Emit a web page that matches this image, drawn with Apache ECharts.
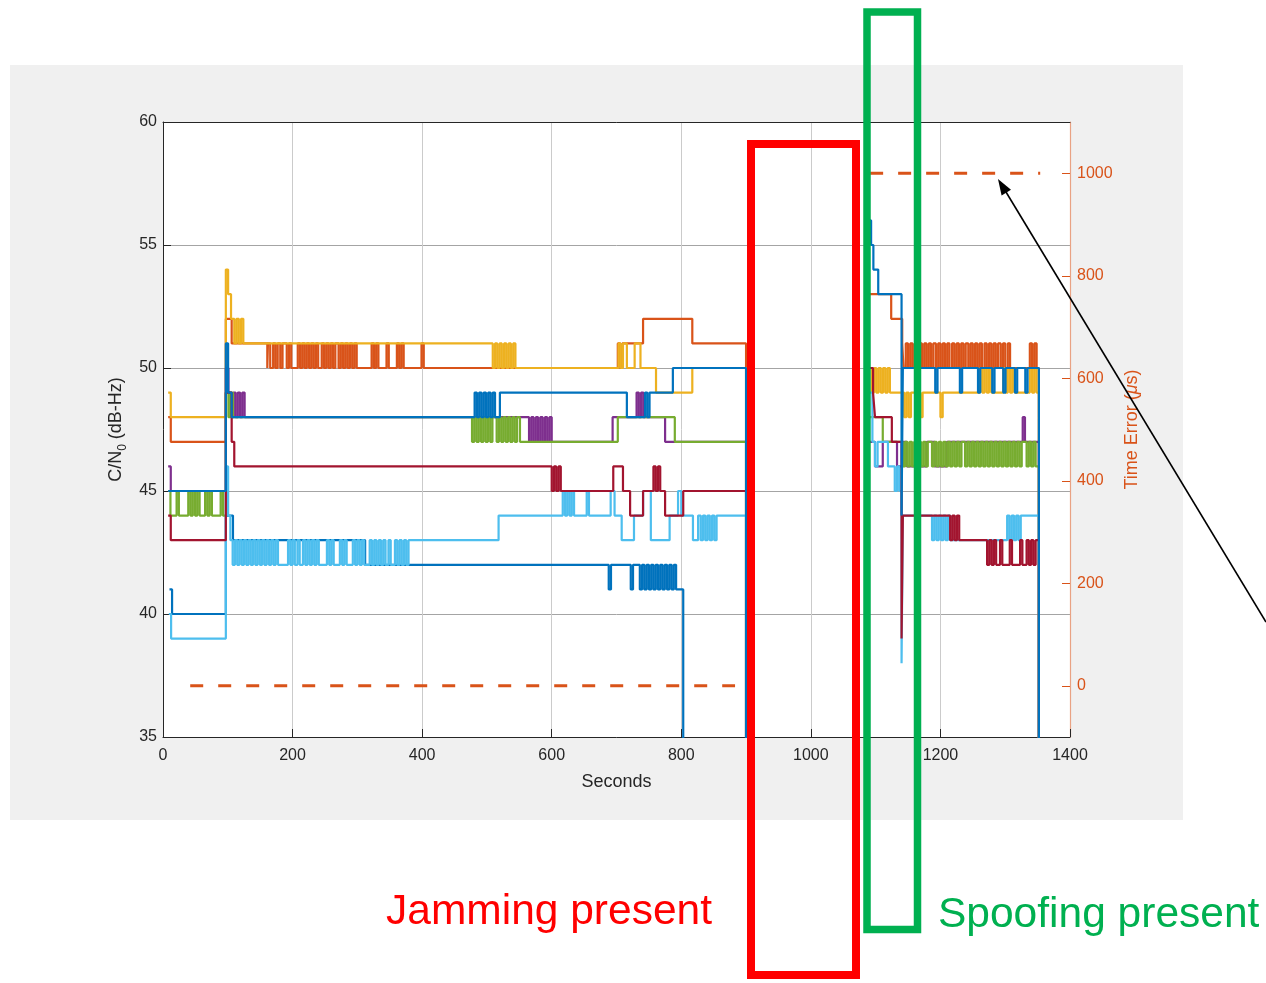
<!DOCTYPE html>
<html>
<head>
<meta charset="utf-8">
<title>C/N0 and time error during jamming and spoofing</title>
<script src="https://cdn.jsdelivr.net/npm/echarts@6/dist/echarts.min.js"></script>
<style>
  html, body { margin: 0; padding: 0; background: #ffffff; }
  #panel { position: absolute; left: 10px; top: 65px; width: 1173px; height: 755px; background: #f0f0f0; }
  #chart { position: absolute; left: 0; top: 0; width: 1266px; height: 983px; }
</style>
</head>
<body>
<div id="panel"></div>
<div id="chart"></div>
<script>
// Alternating levels at the listed switch times: [t0,a],[t1,b],[t2,a],...
function burst(times, a, b) {
  return times.map(function (t, i) { return [t, i % 2 ? b : a]; });
}

// Axis ticks
const secondsRange = [0, 1400, 200];
const cn0Range = [35, 60, 5];
const timeErrorTicks = [0, 200, 400, 600, 800, 1000];

// C/N0 per tracked satellite: [seconds, dB-Hz], each value held until the next time.
// A value of 0 means the channel lost lock (below the axis).
const sat1 = [
  [10, 41], [14, 40], [97, 44], [108, 43], [312, 42], [688, 41], [691.5, 42], [722, 41], [725.5, 42],
  ...burst([736, 739.5, 743, 746.5, 750, 753.5, 757, 760.5, 764, 767.5, 771, 774.5, 778, 781.5, 785, 788.5, 792], 41, 42),
  [803, 0], [810, 0]
];

const sat2 = [
  [8, 48], [12, 47], [97, 52], [106, 51], [161, 50],
  ...burst([162, 165.5, 170, 173.5, 177, 181, 184.5, 191, 194.5, 198], 51, 50),
  ...burst([208, 211.5, 215, 218.5, 222, 225.5, 229, 232.5, 236, 239.5, 245, 248.5, 252, 255.5, 259, 262.5, 266,
            271, 274.5, 278, 281.5, 285, 288.5, 292, 295.5, 299], 51, 50),
  ...burst([322, 325.5, 329, 332.5, 345, 348.5, 361, 364.5, 368, 371.5, 399, 402.5], 51, 50),
  ...burst([702, 705.5], 51, 50),
  [709, 51], [741, 52], [817, 51], [900, 0],
  [1089, 53], [1124, 52], [1141, 51],
  ...burst([1143, 1146.5, 1150, 1153.5, 1157, 1160.5, 1164, 1168, 1171.5, 1175, 1178.5, 1182, 1185.5, 1189, 1193, 1196.5,
            1200, 1203.5, 1207, 1210.5, 1214, 1218, 1221.5, 1225, 1228.5, 1232, 1235.5, 1239, 1243, 1246.5, 1250, 1253.5,
            1257, 1260.5, 1264, 1268, 1271.5, 1275, 1278.5, 1282, 1285.5, 1289, 1293, 1296.5, 1300], 50, 51),
  ...burst([1304, 1307.5, 1338, 1341.5, 1345, 1348.5], 51, 50),
  [1352, 0]
];

const sat3 = [
  [8, 49], [12, 48], [97, 54], [100.5, 53], [105, 52],
  ...burst([110, 113.5, 117, 120.5, 124], 51, 52),
  [509, 50], [512.5, 51], [516, 50], [519.5, 51], [523, 50], [526.5, 51], [530, 50], [533.5, 51], [537, 50],
  [540.5, 51], [544, 50],
  [703, 51], [706.5, 50], [710, 51], [716, 50], [728, 51], [737, 50], [761, 49], [817, 50], [900, 0],
  [1089, 50],
  ...burst([1094, 1097.5, 1101, 1104.5, 1108, 1111.5, 1115, 1118.5, 1122], 49, 50),
  ...burst([1144, 1147.5, 1151, 1154.5, 1169, 1172.5, 1200, 1203.5], 48, 49),
  ...burst([1261, 1264.5, 1268, 1271.5, 1275, 1278.5], 50, 49),
  ...burst([1297, 1300.5, 1304, 1307.5, 1311, 1314.5], 50, 49),
  ...burst([1338, 1341.5, 1345, 1348.5], 50, 49),
  [1352, 0]
];

const sat4 = [
  [8, 46], [12, 45], [97, 50], [101, 49],
  ...burst([105, 108.5, 112, 115.5, 119, 122.5, 126], 48, 49),
  ...burst([565, 568.5, 572, 575.5, 579, 582.5, 586, 589.5, 593, 596.5, 600], 47, 48),
  [694, 48],
  ...burst([731, 734.5, 738, 741.5], 49, 48),
  [775, 47], [900, 0],
  [1089, 47], [1099, 46], [1111, 47], [1133, 46], [1142, 47], [1148, 46], [1179, 47], [1191, 46], [1210, 47],
  [1327, 48], [1330.5, 47], [1352, 0]
];

const sat5 = [
  ...burst([8, 11.5, 21, 24.5, 39, 42.5, 46, 49.5, 53, 56.5, 65, 68.5, 72, 75.5, 89, 92.5], 45, 44),
  [97, 49], [101, 48], [104.5, 49], [108, 48],
  ...burst([477, 480.5, 484, 487.5, 491, 494.5, 498, 501.5, 505, 508.5, 515, 518.5, 522, 525.5, 529, 532.5,
            536, 539.5, 543, 546.5], 47, 48),
  [551, 47], [702, 48], [790, 47], [900, 0],
  [1089, 48], [1111, 47],
  ...burst([1142, 1145.5, 1149, 1152.5, 1156, 1159.5, 1163, 1166.5, 1170, 1173.5, 1177, 1180.5,
            1187, 1190.5, 1194, 1197.5, 1201, 1204.5, 1208, 1211.5, 1215, 1218.5, 1222, 1225.5, 1229, 1232.5,
            1238, 1241.5, 1245, 1248.5, 1252, 1255.5, 1259, 1262.5, 1266, 1269.5, 1273, 1276.5, 1280, 1283.5,
            1287, 1290.5, 1294, 1297.5, 1301, 1304.5, 1308, 1311.5, 1315, 1318.5, 1322, 1325.5,
            1333, 1336.5, 1340, 1343.5, 1347], 46, 47),
  [1352, 0]
];

const sat6 = [
  [9, 40], [12.5, 39], [97, 46], [100.5, 44], [104, 43],
  ...burst([107.5, 111, 114.5, 118, 121.5, 125, 128.5, 132, 135.5, 139, 142.5, 146, 149.5], 42, 43),
  ...burst([153, 156.5, 160, 163.5, 167, 170.5, 174, 177.5], 43, 42),
  ...burst([193, 196.5, 200, 203.5], 43, 42),
  ...burst([207.5, 211], 43, 42),
  ...burst([216, 219.5, 223, 226.5, 230, 233.5, 237, 240.5], 43, 42),
  ...burst([253, 256.5, 260, 263.5], 43, 42),
  ...burst([273, 276.5, 280, 283.5], 43, 42),
  ...burst([293, 296.5, 300, 303.5, 307, 310.5], 43, 42),
  ...burst([319, 322.5, 326, 329.5, 333, 336.5, 340, 343.5], 43, 42),
  ...burst([348, 351.5], 43, 42),
  ...burst([358, 361.5, 365, 368.5, 372, 375.5], 43, 42),
  [379, 43], [518, 44],
  ...burst([617, 620.5, 624, 627.5, 631, 634.5], 45, 44),
  [654, 45], [657.5, 44], [691, 45], [697, 44], [708, 43], [727, 44], [741, 45], [753, 43], [782, 44], [795, 45],
  [800, 44], [818, 43], [826, 44],
  ...burst([830, 833.5, 837, 840.5, 844, 847.5, 851, 854.5], 43, 44),
  [900, 0],
  [1089, 49], [1095, 47], [1099, 46], [1103, 47], [1119, 46],
  ...burst([1129.5, 1133, 1136.5], 45, 46),
  [1140, 38], [1142, 44],
  ...burst([1187, 1190.5, 1194, 1197.5, 1201, 1204.5, 1208, 1211.5, 1215], 43, 44),
  ...burst([1303, 1306.5, 1310, 1313.5, 1317, 1320.5, 1324], 44, 43),
  [1352, 0]
];

const sat7 = [
  [8, 44], [12, 43], [97, 49], [106, 47], [110, 46],
  ...burst([600, 603.5, 607, 610.5, 614], 45, 46),
  [695, 46], [710, 45], [721, 44], [741, 45],
  ...burst([757, 760.5, 764, 767.5], 46, 45),
  [775, 44], [803, 45], [900, 0],
  [1089, 50], [1096, 49], [1099, 48], [1125, 47], [1140, 39], [1142, 44],
  ...burst([1215, 1218.5, 1222, 1225.5, 1229], 43, 44),
  ...burst([1272, 1275.5, 1279, 1282.5, 1286], 42, 43),
  ...burst([1292, 1295.5], 43, 42),
  ...burst([1307, 1310.5], 43, 42),
  ...burst([1323, 1326.5], 43, 42),
  ...burst([1333, 1336.5, 1340, 1343.5, 1347], 43, 42),
  [1352, 0]
];

const sat8 = [
  [8, 45], [97, 51], [100.5, 49], [106, 48],
  ...burst([481, 484.5, 488, 491.5, 495, 498.5, 502, 505.5, 509, 512.5], 49, 48),
  [520, 49], [716, 48],
  ...burst([744, 747.5, 751], 49, 48),
  [787, 50], [900, 0],
  [1089, 56], [1093, 55], [1096.5, 54], [1104, 53], [1140, 44], [1142, 50],
  ...burst([1192, 1195.5, 1230, 1233.5, 1258, 1261.5, 1280, 1283.5, 1297, 1300.5, 1315, 1318.5, 1331, 1334.5], 49, 50),
  [1352, 0]
];

// Receiver time error (µs), right axis
const timeErrorBefore = [[42, 0], [883, 0]];
const timeErrorAfter = [[1091.5, 1000], [1354, 1000]];

const satellites = [sat1, sat2, sat3, sat4, sat5, sat6, sat7, sat8];
const satColors = ['#0072BD', '#D95319', '#EDB120', '#7E2F8E', '#77AC30', '#4DBEEE', '#A2142F', '#0072BD'];

const FONT = '"Liberation Sans", Arial, Helvetica, sans-serif';
const INK = '#262626';
const ERR = '#D95319';

const series = satellites.map(function (d, i) {
  return {
    type: 'line', step: 'end', data: d, xAxisIndex: 0, yAxisIndex: 0,
    symbol: 'none', clip: true, silent: true,
    lineStyle: { color: satColors[i], width: 2.2 }
  };
});
[timeErrorBefore, timeErrorAfter].forEach(function (d) {
  series.push({
    type: 'line', data: d, xAxisIndex: 0, yAxisIndex: 1, symbol: 'none', silent: true,
    lineStyle: { color: ERR, width: 3, type: [13, 15] }
  });
});

function plain(v) { return String(v); }

const chart = echarts.init(document.getElementById('chart'), null, { renderer: 'canvas' });
chart.setOption({
  animation: false,
  backgroundColor: 'transparent',
  grid: { left: 163, top: 122, width: 907, height: 615, show: true, backgroundColor: '#ffffff', borderWidth: 0 },
  xAxis: [{
    type: 'value', position: 'bottom',
    min: secondsRange[0], max: secondsRange[1], interval: secondsRange[2],
    name: 'Seconds', nameLocation: 'middle', nameGap: 36,
    nameTextStyle: { fontSize: 18, color: INK, fontFamily: FONT },
    axisLine: { show: true, onZero: false, lineStyle: { color: INK, width: 1 } },
    axisTick: { show: true, inside: true, length: 8, lineStyle: { color: INK } },
    axisLabel: { fontSize: 16, color: INK, margin: 11, fontFamily: FONT, formatter: plain },
    splitLine: { show: true, lineStyle: { color: '#cbcbcb', width: 1 } }
  }, {
    type: 'value', position: 'top',
    min: secondsRange[0], max: secondsRange[1], interval: secondsRange[2],
    axisLine: { show: true, onZero: false, lineStyle: { color: INK, width: 1 } },
    axisTick: { show: false }, axisLabel: { show: false }, splitLine: { show: false }
  }],
  yAxis: [{
    type: 'value', position: 'left',
    min: cn0Range[0], max: cn0Range[1], interval: cn0Range[2],
    name: 'C/N{s|0} (dB-Hz)', nameLocation: 'middle', nameRotate: 90, nameGap: 30,
    nameTextStyle: {
      fontSize: 18, color: INK, fontFamily: FONT,
      rich: { s: { fontSize: 12, color: INK, fontFamily: FONT, padding: [13, 0, 0, 0] } }
    },
    axisLine: { show: true, onZero: false, lineStyle: { color: INK, width: 1 } },
    axisTick: { show: true, inside: true, length: 8, lineStyle: { color: INK } },
    axisLabel: { fontSize: 16, color: INK, margin: 6, fontFamily: FONT, formatter: plain },
    splitLine: { show: true, lineStyle: { color: '#a4a4a4', width: 1 } }
  }, {
    type: 'value', position: 'right', min: -100, max: 1100,
    name: 'Time Error ({mu|μ}s)', nameLocation: 'middle', nameRotate: 90, nameGap: 45,
    nameTextStyle: {
      fontSize: 18, color: ERR, fontFamily: FONT,
      rich: { mu: { fontSize: 18, color: ERR, fontFamily: FONT, fontStyle: 'italic' } }
    },
    axisLine: { show: true, onZero: false, lineStyle: { color: '#E9A283', width: 1.2 } },
    axisTick: { show: true, inside: true, length: 8, customValues: timeErrorTicks, lineStyle: { color: ERR } },
    axisLabel: { customValues: timeErrorTicks, fontSize: 16, color: ERR, margin: 7, fontFamily: FONT, formatter: plain },
    splitLine: { show: false }
  }],
  series: series,
  graphic: [
    { type: 'rect', z: 100, shape: { x: 751, y: 144, width: 105, height: 831 },
      style: { fill: null, stroke: '#FF0000', lineWidth: 8 } },
    { type: 'rect', z: 100, shape: { x: 867, y: 12, width: 50.5, height: 917.5 },
      style: { fill: null, stroke: '#00B050', lineWidth: 7.5 } },
    { type: 'text', z: 100, x: 386, y: 912,
      style: { text: 'Jamming present', fill: '#FF0000', font: '42.5px ' + FONT, textAlign: 'left', textVerticalAlign: 'middle' } },
    { type: 'text', z: 100, x: 938, y: 915,
      style: { text: 'Spoofing present', fill: '#00B050', font: '42.5px ' + FONT, textAlign: 'left', textVerticalAlign: 'middle' } },
    { type: 'line', z: 100, shape: { x1: 1266, y1: 622, x2: 1006, y2: 192 },
      style: { stroke: '#000000', lineWidth: 1.6 } },
    { type: 'polygon', z: 100, shape: { points: [[998, 179], [1011, 189.8], [1001.6, 195.5]] },
      style: { fill: '#000000' } }
  ]
});
</script>
</body>
</html>
